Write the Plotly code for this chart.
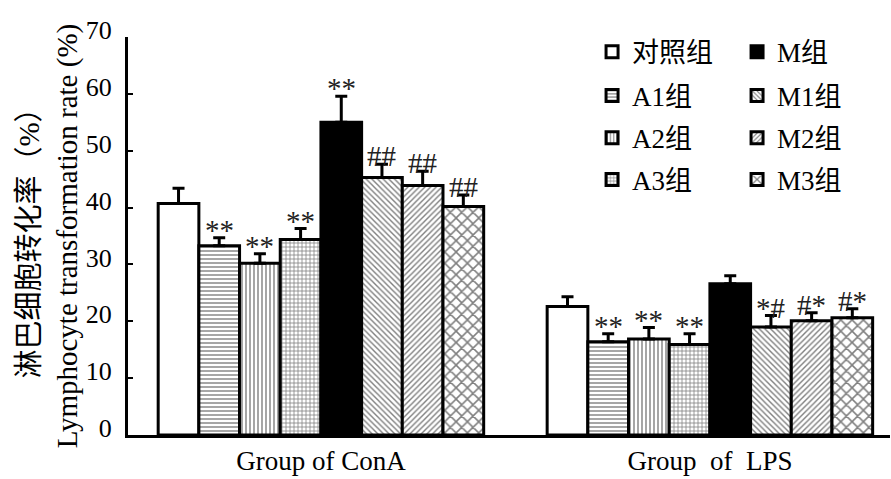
import plotly.graph_objects as go

groups = ["Group of ConA", "Group  of  LPS"]
series = ["对照组", "A1组", "A2组", "A3组", "M组", "M1组", "M2组", "M3组"]
conA_vals = [40.7, 33.3, 30.2, 34.4, 55.0, 45.3, 43.9, 40.2]
conA_err = [2.7, 1.4, 1.7, 1.9, 4.6, 2.3, 2.5, 2.0]
lps_vals = [22.6, 16.4, 16.9, 15.9, 26.6, 19.0, 20.1, 20.6]
lps_err = [1.7, 1.4, 2.0, 1.9, 1.4, 2.0, 1.4, 1.6]
conA_marks = ["", "**", "**", "**", "**", "##", "##", "##"]
lps_marks = ["", "**", "**", "**", "", "*#", "#*", "#*"]

patterns = ["", "-", "|", "+", "", "\\", "/", "x"]
pattern_sizes = [4, 4, 4, 4, 4, 4, 4, 8]
fills = ["white", "white", "white", "white", "black", "white", "white", "white"]
legend_ids = ["legend", "legend2", "legend3", "legend4", "legend", "legend2", "legend3", "legend4"]

FONT = "Liberation Serif, Noto Sans CJK SC, serif"
bar_w = 0.1046
n = len(series)

fig = go.Figure()
for i, name in enumerate(series):
    xs = [g + (i - (n - 1) / 2) * bar_w for g in range(len(groups))]
    vals = [conA_vals[i], lps_vals[i]]
    errs = [conA_err[i], lps_err[i]]
    marks = [conA_marks[i], lps_marks[i]]
    fig.add_trace(go.Bar(
        x=xs, y=vals, width=bar_w, name=name,
        legend=legend_ids[i],
        marker=dict(color=fills[i], line=dict(color="black", width=3),
                    pattern=dict(shape=patterns[i], fgcolor="black", bgcolor=fills[i],
                                 size=pattern_sizes[i], solidity=0.35)),
        error_y=dict(type="data", array=errs, arrayminus=[0, 0], symmetric=False,
                     color="black", thickness=3, width=6),
    ))
    for x, v, e, m in zip(xs, vals, errs, marks):
        if m:
            fig.add_annotation(x=x, y=v + e, text=m, showarrow=False,
                               yanchor="bottom", yshift=-10,
                               font=dict(family=FONT, size=29, color="#222222"))

leg_common = dict(orientation="h", entrywidth=100, xanchor="left", yanchor="middle",
                  font=dict(family=FONT, size=27, color="black"), bgcolor="rgba(0,0,0,0)",
                  itemwidth=30, x=0.609)
fig.update_layout(
    width=891, height=479,
    margin=dict(l=128, r=1, t=37, b=44, autoexpand=False),
    paper_bgcolor="white", plot_bgcolor="white",
    barmode="overlay",
    showlegend=True,
    legend=dict(**leg_common, y=0.962),
    legend2=dict(**leg_common, y=0.852),
    legend3=dict(**leg_common, y=0.746),
    legend4=dict(**leg_common, y=0.641),
    xaxis=dict(range=[-0.496, 1.463], tickvals=list(range(len(groups))), ticktext=groups,
               showline=True, linecolor="black", linewidth=3, ticks="", showgrid=False,
               automargin=False, ticklabelstandoff=0,
               zeroline=False, tickfont=dict(family=FONT, size=27, color="black")),
    yaxis=dict(range=[0, 70], dtick=10, showline=True, linecolor="black", linewidth=3,
               ticks="inside", ticklen=5, tickwidth=2, tickcolor="black", showgrid=False,
               automargin=True, ticklabelstandoff=8, ticklabelshift=-7,
               zeroline=False, tickfont=dict(family=FONT, size=26, color="black")),
)
fig.update_yaxes(title=dict(text="淋巴细胞转化率（%）<br>Lymphocyte transformation rate (%)",
                            font=dict(family=FONT, size=29, color="black"), standoff=0))
fig.write_html("out.html", post_script="document.body.style.margin='0';",
               config={"displayModeBar": False})
